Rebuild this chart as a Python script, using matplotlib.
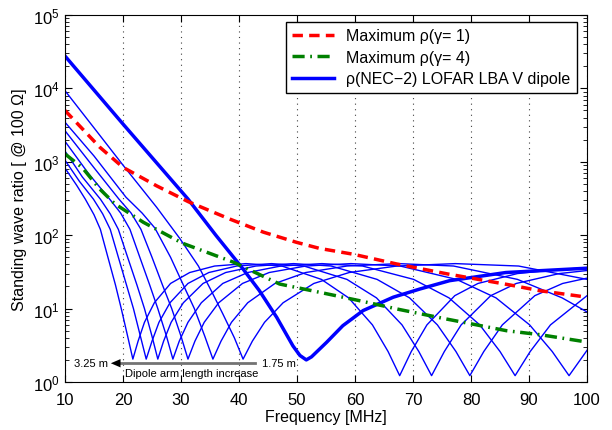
import matplotlib
matplotlib.use('Agg')
import matplotlib.pyplot as plt

plt.rcParams['font.family'] = ['Liberation Sans', 'DejaVu Sans']
plt.rcParams['mathtext.default'] = 'regular'

# Maximum rho curves
red_f = [10, 16, 20, 25.8, 31.3, 38.4, 44.2, 49.9, 53.9, 59.7, 67.2, 76, 86.7, 91.9, 100]
red_v = [5000, 1580, 840, 470, 285, 166, 110, 80, 66, 55, 40.5, 29.6, 21, 17.5, 14.3]
green_f = [10, 13, 16, 18.6, 23.5, 30.2, 39, 47, 54.5, 60.8, 67.7, 75.8, 86.1, 92, 100]
green_v = [1280, 830, 425, 267, 150, 78, 43, 21.6, 16.3, 12.8, 9.7, 7.2, 5.0, 4.4, 3.5]

# NEC-2 LOFAR LBA dipole (thick curve)
nec_f = [10, 20, 31.2, 36, 40.7, 43.5, 46.5, 49.3, 50.5, 51.6, 52.5, 55.1, 57.9, 61.4, 66.6, 71.2, 76.3, 86, 100]
nec_v = [27600, 3270, 311, 100, 34.6, 17.6, 7.6, 3.1, 2.3, 2.0, 2.2, 3.47, 5.85, 9.4, 14.3, 18.5, 24, 31, 35.5]

# arm length sweep (thin curves), 3.25 m ... 1.75 m
sweep_f = [
    [10, 12, 13.5, 15.0, 16.1, 17.4, 18.7, 19.7, 20.8, 21.7, 22.6, 23.7, 25.4, 28.2, 31.5, 35.8, 41.2,
     47.4, 54.2, 58.9, 63.0, 65.7, 67.7, 69.7, 72.4, 77.2, 81.2, 88.0, 94.8, 100],
    [10, 12.5, 14.9, 16.5, 17.8, 19.2, 20.6, 21.8, 23.0, 24.0, 25.0, 26.2, 28.1, 31.2, 34.8, 39.6, 45.6,
     51.2, 58.6, 63.7, 68.1, 71.0, 73.2, 75.4, 78.3, 83.4, 87.8, 95.2, 100],
    [10, 13, 16.1, 17.8, 19.2, 20.8, 22.4, 23.7, 25.0, 26.0, 27.0, 28.3, 30.4, 33.8, 37.7, 42.9, 49.4,
     55.9, 63.8, 69.4, 74.2, 77.4, 79.8, 82.2, 85.4, 91.0, 95.8, 100],
    [10, 14, 17.7, 19.6, 21.2, 22.9, 24.6, 26.0, 27.5, 28.6, 29.7, 31.2, 33.5, 37.2, 41.5, 47.2, 54.3,
     61.3, 70.1, 76.2, 81.5, 85.0, 87.6, 90.2, 93.7, 100],
    [10, 15, 19.3, 21.4, 23.1, 25.0, 26.8, 28.4, 30.0, 31.2, 32.4, 34.0, 36.5, 40.6, 45.2, 51.5, 59.3,
     67.8, 77.5, 84.3, 90.1, 94.0, 96.9, 100],
    [10, 15, 20.5, 23.3, 25.5, 28.2, 30.4, 32.3, 34.1, 35.5, 36.9, 38.7, 41.5, 46.2, 51.5, 58.6, 67.5,
     77.0, 88.0, 95.7, 100],
    [10, 15, 20, 25.8, 29.8, 33.0, 35.3, 37.2, 39.2, 40.7, 42.3, 44.4, 47.6, 52.9, 59.0, 67.2, 77.3,
     88.2, 100],
]
sweep_v = [
    [820, 480, 310, 190, 120, 50, 21, 10, 4.2, 2.05, 3.6, 6.5, 12, 22, 31, 38, 41,
     38, 25, 14, 6, 2.6, 1.22, 2.6, 6, 15, 22, 30, 34, 36],
    [1050, 540, 310, 195, 120, 50, 21, 10, 4.2, 2.05, 3.6, 6.5, 12, 22, 31, 38, 41,
     38, 25, 14, 6, 2.6, 1.22, 2.6, 6, 15, 22, 30, 33],
    [1400, 620, 310, 195, 120, 50, 21, 10, 4.2, 2.05, 3.6, 6.5, 12, 22, 31, 38, 41,
     38, 25, 14, 6, 2.6, 1.22, 2.6, 6, 15, 22, 26],
    [1900, 700, 310, 200, 120, 50, 21, 10, 4.2, 2.05, 3.6, 6.5, 12, 22, 31, 38, 41,
     38, 25, 14, 6, 2.6, 1.22, 2.6, 6, 15],
    [2650, 830, 310, 200, 120, 50, 21, 10, 4.2, 2.05, 3.6, 6.5, 12, 22, 31, 38, 41,
     38, 25, 14, 6, 2.6, 1.22, 2.7],
    [3460, 1200, 330, 200, 125, 50, 21, 10, 4.2, 2.05, 3.6, 6.5, 12, 22, 31, 38, 41,
     38, 25, 14, 9],
    [9300, 2900, 900, 240, 90, 38, 17, 8.5, 4.0, 2.05, 3.6, 6.5, 12, 22, 31, 38, 41,
     38, 25],
]

fig = plt.figure(figsize=(6.12, 4.31), dpi=100)
ax = fig.add_axes([0.1062, 0.1114, 0.853, 0.8515])

for f, v in zip(sweep_f, sweep_v):
    ax.plot(f, v, color='#0000ff', lw=1.0)
h_nec, = ax.plot(nec_f, nec_v, color='#0000ff', lw=2.5)
h_red, = ax.plot(red_f, red_v, color='#ff0000', lw=2.5, dashes=(3.0, 1.8))
h_green, = ax.plot(green_f, green_v, color='#008000', lw=2.5, dashes=(3.5, 1.6, 0.5, 1.6))

ax.set_yscale('log')
ax.set_xlim(10, 100)
ax.set_ylim(1, 1e5)
ax.set_xticks(range(10, 101, 10))
ax.xaxis.grid(True, linestyle=(0, (1, 4)), color='0.25', lw=0.8)
ax.tick_params(which='both', direction='in', top=True, right=True, labelsize=12)
ax.tick_params(which='major', length=5)
ax.tick_params(which='minor', length=3)
ax.tick_params(axis='x', which='major', pad=7)
ax.tick_params(axis='y', which='major', pad=4)
ax.set_xlabel('Frequency [MHz]', fontsize=11.5, labelpad=2)
ax.set_ylabel('Standing wave ratio [ @ 100 Ω]', fontsize=11.5)

# arm length arrow
ax.plot([19.5, 42.7], [1.8, 1.8], color='0.45', lw=2)
ax.annotate('', xy=(17.9, 1.8), xytext=(20.5, 1.8),
            arrowprops=dict(arrowstyle='-|>,head_length=0.7,head_width=0.3', color='k', lw=0, shrinkA=0, shrinkB=0))
ax.text(17.4, 1.8, '3.25 m', ha='right', va='center', fontsize=8)
ax.text(44.0, 1.8, '1.75 m', ha='left', va='center', fontsize=8)
ax.text(31.8, 1.32, 'Dipole arm length increase', ha='center', va='center', fontsize=8)

leg = ax.legend([h_red, h_green, h_nec],
                ['Maximum ρ(γ= 1)', 'Maximum ρ(γ= 4)', 'ρ(NEC−2) LOFAR LBA V dipole'],
                loc='upper right', bbox_to_anchor=(0.981, 0.981), borderaxespad=0,
                fontsize=11.5, fancybox=False, framealpha=1, labelspacing=0.4,
                edgecolor='k', handlelength=2.6)
leg.get_frame().set_linewidth(1.0)

fig.savefig('out.png', dpi=100)
